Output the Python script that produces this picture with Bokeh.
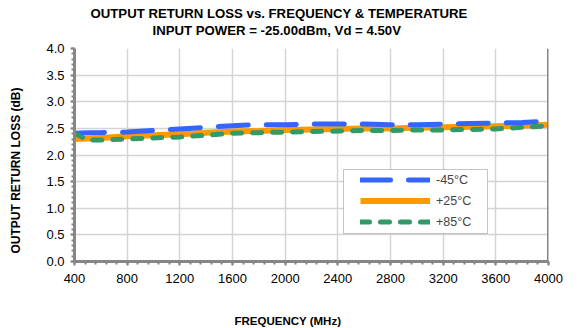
from bokeh.plotting import figure
from bokeh.models import (FixedTicker, PrintfTickFormatter, Span, Title,
                          Legend, LegendItem, BoxAnnotation, Range1d)
from bokeh.embed import file_html
from bokeh.resources import INLINE

# Output return loss vs. frequency at three temperatures
freq_mhz = [400, 500, 600, 800, 1000, 1200, 1400, 1600, 1800, 2000,
            2200, 2400, 2600, 2800, 3000, 3200, 3400, 3600, 3800, 4000]
rl_m45 = [2.41, 2.42, 2.42, 2.43, 2.46, 2.49, 2.52, 2.55, 2.57, 2.57,
          2.58, 2.58, 2.58, 2.57, 2.57, 2.58, 2.59, 2.60, 2.61, 2.64]
rl_p25 = [2.30, 2.31, 2.32, 2.35, 2.37, 2.39, 2.42, 2.44, 2.45, 2.47,
          2.48, 2.49, 2.50, 2.50, 2.51, 2.52, 2.53, 2.54, 2.55, 2.57]
rl_p85 = [2.41, 2.28, 2.28, 2.30, 2.32, 2.34, 2.37, 2.41, 2.42, 2.43,
          2.44, 2.45, 2.46, 2.46, 2.47, 2.47, 2.48, 2.49, 2.52, 2.55]

x_ticks = list(range(400, 4001, 400))
x_minor = list(range(400, 4001, 80))
y_ticks = [0.0, 0.5, 1.0, 1.5, 2.0, 2.5, 3.0, 3.5, 4.0]
y_minor = [i / 10 for i in range(0, 41)]

series_labels = ["-45°C", "+25°C", "+85°C"]
title_line1 = "OUTPUT RETURN LOSS vs. FREQUENCY & TEMPERATURE"
title_line2 = "INPUT POWER = -25.00dBm, Vd = 4.50V"
x_label = "FREQUENCY (MHz)"
y_label = "OUTPUT RETURN LOSS (dB)"

FONT = "Liberation Sans"
AXIS_GRAY = "#868686"

p = figure(width=587, height=328, output_backend="svg", toolbar_location=None,
           x_range=Range1d(400, 4000), y_range=Range1d(0, 4),
           min_border_left=74, min_border_right=39, min_border_top=48,
           min_border_bottom=67, title=None)
p.outline_line_color = None
p.background_fill_color = "white"
p.border_fill_color = "white"

# Axes
p.xaxis.ticker = FixedTicker(ticks=x_ticks, minor_ticks=x_minor)
p.yaxis.ticker = FixedTicker(ticks=y_ticks, minor_ticks=y_minor)
p.yaxis.formatter = PrintfTickFormatter(format="%.1f")
for ax in (p.xaxis[0], p.yaxis[0]):
    ax.axis_line_color = AXIS_GRAY
    ax.axis_line_width = 3
    ax.major_tick_line_color = AXIS_GRAY
    ax.major_tick_line_width = 2
    ax.major_tick_out = 4
    ax.major_tick_in = 0
    ax.minor_tick_line_color = AXIS_GRAY
    ax.minor_tick_line_width = 2
    ax.minor_tick_out = 3
    ax.minor_tick_in = 0
    ax.major_label_text_font = FONT
    ax.major_label_text_font_size = "13px"
    ax.major_label_text_color = "#000000"
p.xaxis.major_label_standoff = 8
p.yaxis.major_label_standoff = 6

# Grid
p.xgrid.ticker = FixedTicker(ticks=x_ticks)
p.ygrid.ticker = FixedTicker(ticks=y_ticks)
p.xgrid.grid_line_color = "#d4d4d4"
p.ygrid.grid_line_color = "#d4d4d4"
p.xgrid.grid_line_width = 1.5
p.ygrid.grid_line_width = 1.5

# Right edge of the plot area
p.add_layout(Span(location=4000, dimension="height", line_color=AXIS_GRAY,
                  line_width=3))

# Series
r25 = p.line(freq_mhz, rl_p25, line_color="#ff9900", line_width=6)
r45 = p.line(freq_mhz, rl_m45, line_color="#3366ff", line_width=5,
             line_dash="30 18", line_cap="round")
r85 = p.line(freq_mhz, rl_p85, line_color="#339966", line_width=5,
             line_dash="9 11", line_cap="round")

# Legend frame and entries
p.add_layout(BoxAnnotation(left=269, right=413, bottom=28, top=92,
                           left_units="screen", right_units="screen",
                           bottom_units="screen", top_units="screen",
                           fill_color="white", fill_alpha=1,
                           line_color="#404040", line_width=1))
legend = Legend(items=[LegendItem(label=series_labels[0], renderers=[r45]),
                       LegendItem(label=series_labels[1], renderers=[r25]),
                       LegendItem(label=series_labels[2], renderers=[r85])],
                location=(286, 29), padding=0, spacing=0, margin=0,
                glyph_width=70, glyph_height=21, label_height=21,
                label_standoff=6, border_line_color=None,
                background_fill_alpha=0,
                label_text_font=FONT, label_text_font_size="12.5px")
p.add_layout(legend)


def gap(size):
    """Blank side-panel entry that only reserves `size` pixels."""
    return Title(text="\u00a0", text_font_size="1px", standoff=size - 1)


# Titles and axis labels (left-aligned with pixel offsets from the frame)
text_kw = dict(text_font=FONT, text_font_style="bold", text_color="#000000",
               standoff=0)
p.add_layout(gap(9), "above")
p.add_layout(Title(text=title_line2, align="left", offset=78,
                   text_font_size="13.2px", **text_kw), "above")
p.add_layout(Title(text=title_line1, align="left", offset=16,
                   text_font_size="13.2px", **text_kw), "above")
p.add_layout(gap(25), "below")
p.add_layout(Title(text=x_label, align="left", offset=160,
                   text_font_size="11.5px", **text_kw), "below")
p.add_layout(gap(19), "left")
p.add_layout(Title(text=y_label, align="left", offset=8,
                   text_font_size="12px", **text_kw), "left")

open("out.html", "w").write(file_html(p, INLINE))
